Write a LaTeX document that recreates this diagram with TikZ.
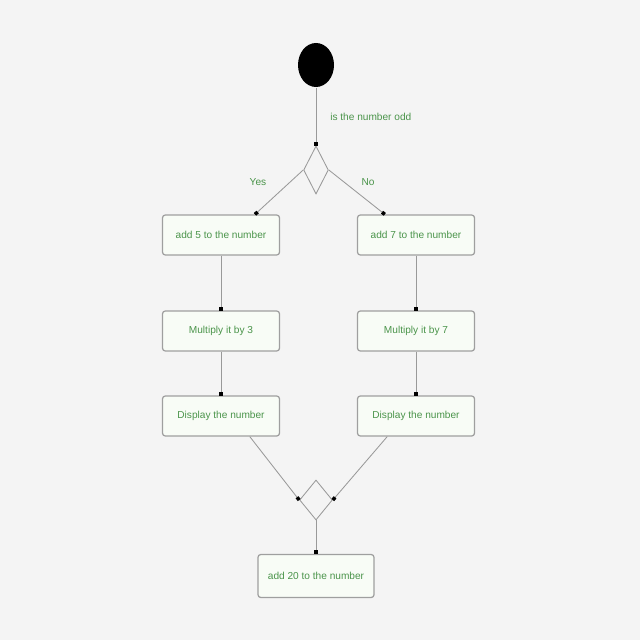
\documentclass[tikz,border=0pt]{standalone}
\usepackage{fontspec}
\setmainfont{Liberation Sans}
\usepackage{tikz}
\usetikzlibrary{shapes.geometric, arrows.meta}

\definecolor{bggray}{HTML}{F4F4F4}
\definecolor{boxfill}{HTML}{F8FCF6}
\definecolor{txtgreen}{HTML}{4A944A}

\begin{document}
\begin{tikzpicture}
  [
    thick,
    every node/.style = {font=\fontsize{7.2}{8}\selectfont, text=txtgreen},
    action/.style = {draw=gray!75, fill=boxfill, rounded corners=2pt,
                     line width=0.9pt, minimum width=2.925cm, minimum height=1cm},
    choice/.style = {draw=gray!80, diamond, inner sep=0pt, line width=0.6pt},
    flow/.style = {draw=gray!80, line width=0.6pt, -{Square[length=2.5pt,width=2.5pt,black]}}
  ]
  \fill[bggray] (0,0) rectangle (16,-16);
  \useasboundingbox (0,0) rectangle (16,-16);

  % start and decision
  \node (Start) [ellipse, fill=black, minimum width=0.9cm, minimum height=1.1cm] at (7.9,-1.625) {};
  \node (Odd) [choice, minimum width=0.62cm, minimum height=1.2cm] at (7.9,-4.25) {};

  % left branch
  \node (A1) [action] at (5.525,-5.875) {add 5 to the number};
  \node (A2) [action] at (5.525,-8.275) {Multiply it by 3};
  \node (A3) [action] at (5.525,-10.4)  {Display the number};

  % right branch
  \node (B1) [action] at (10.4,-5.875) {add 7 to the number};
  \node (B2) [action] at (10.4,-8.275) {Multiply it by 7};
  \node (B3) [action] at (10.4,-10.4)  {Display the number};

  % merge and end
  \node (Merge) [choice, minimum width=0.82cm, minimum height=1cm] at (7.9,-12.5) {};
  \node (End) [action, minimum width=2.9cm, minimum height=1.075cm] at (7.9,-14.4) {add 20 to the number};

  \draw[flow] (Start.south) -- (Odd.north);
  \draw[flow] (Odd.west) -- ([xshift=0.85cm]A1.north);
  \draw[flow] (Odd.east) -- ([xshift=-0.78cm]B1.north);
  \draw[flow] (A1) -- (A2);
  \draw[flow] (A2) -- (A3);
  \draw[flow] (B1) -- (B2);
  \draw[flow] (B2) -- (B3);
  \draw[flow] ([xshift=0.72cm]A3.south) -- (Merge.west);
  \draw[flow] ([xshift=-0.72cm]B3.south) -- (Merge.east);
  \draw[flow] (Merge.south) -- (End.north);

  \node (Q) [anchor=west] at (8.125,-2.925) {is the number odd};
  \node (Yes) at (6.45,-4.55) {Yes};
  \node (No)  at (9.2,-4.55)  {No};
\end{tikzpicture}
\end{document}
